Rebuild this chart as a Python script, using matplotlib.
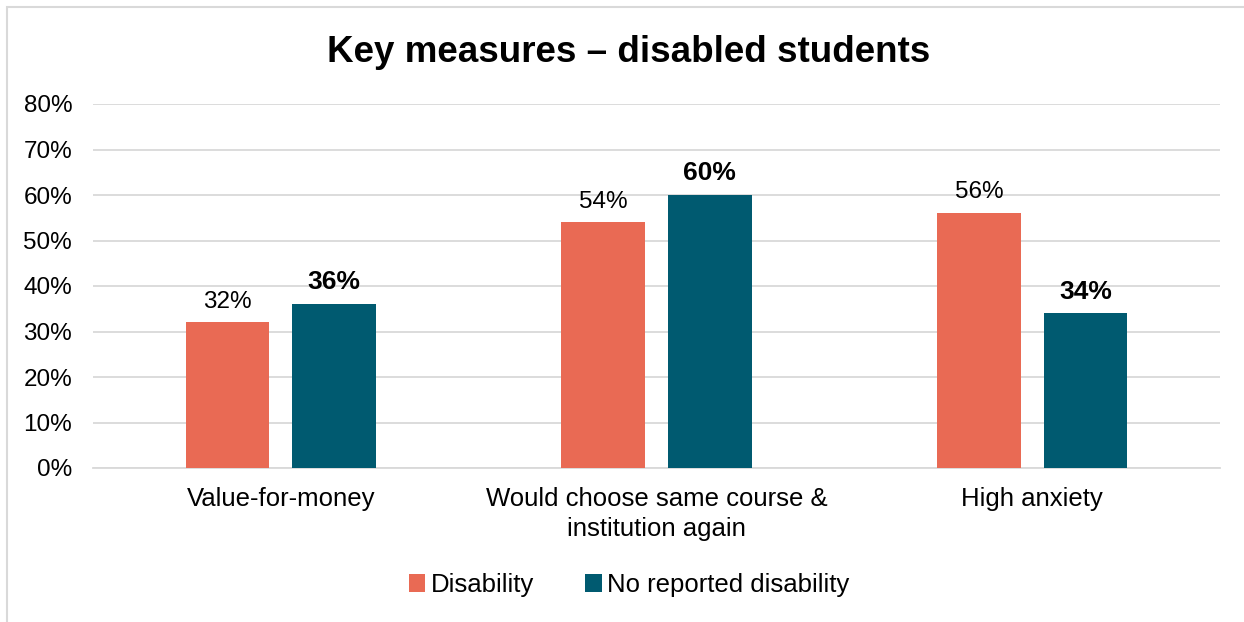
import numpy as np
import matplotlib
matplotlib.use("Agg")
import matplotlib.pyplot as plt
from matplotlib.patches import Rectangle

plt.rcParams['font.family'] = ['Liberation Sans', 'DejaVu Sans']

categories = ["Value-for-money", "Would choose same course &\ninstitution again", "High anxiety"]
series_names = ["Disability", "No reported disability"]
disability = [32, 54, 56]
no_disability = [36, 60, 34]
colors = ["#E96A54", "#005A70"]
yticks = [0, 10, 20, 30, 40, 50, 60, 70, 80]

W, H = 1244, 622
fig = plt.figure(figsize=(W / 100, H / 100), dpi=100)
ax = fig.add_axes([93 / W, 1 - 468 / H, (1220 - 93) / W, (468 - 104) / H])

# outer chart frame (cropped on right/bottom)
fig.patches.append(Rectangle((7 / W, -0.1), 1.2, (1 - 7 / H) + 0.1, transform=fig.transFigure,
                             fill=False, edgecolor="#d9d9d9", lw=1.5))

x = np.arange(len(categories))
width = 0.222
off = 0.142
b1 = ax.bar(x - off, disability, width, color=colors[0], label=series_names[0], zorder=3)
b2 = ax.bar(x + off, no_disability, width, color=colors[1], label=series_names[1], zorder=3)

for rect, v in zip(b1, disability):
    ax.annotate(f"{v}%", (rect.get_x() + rect.get_width() / 2, v), xytext=(0, 7),
                textcoords="offset points", ha="center", va="bottom", fontsize=17.5)
for rect, v in zip(b2, no_disability):
    ax.annotate(f"{v}%", (rect.get_x() + rect.get_width() / 2, v), xytext=(0, 7),
                textcoords="offset points", ha="center", va="bottom", fontsize=19,
                fontweight="bold")

ax.set_xlim(-0.5, 2.5)
ax.set_ylim(0, 80)
ax.set_yticks(yticks)
ax.set_yticklabels([f"{t}%" for t in yticks], fontsize=17.5)
ax.set_xticks(x)
ax.set_xticklabels(categories, fontsize=18.5, linespacing=1.3)
ax.tick_params(axis="both", length=0)
ax.tick_params(axis="x", pad=14)
ax.tick_params(axis="y", pad=15)
ax.grid(axis="y", color="#d9d9d9", lw=1.3, zorder=0)
for s in ["top", "right", "left"]:
    ax.spines[s].set_visible(False)
ax.spines["bottom"].set_color("#d9d9d9")
ax.spines["bottom"].set_linewidth(1.3)

fig.text(629 / W, 1 - 52 / H, "Key measures \u2013 disabled students", ha="center", va="center",
         fontsize=26.5, fontweight="bold")

fig.legend(loc="center", bbox_to_anchor=(629 / W, 1 - 585 / H), ncol=2, frameon=False,
           fontsize=18.5, handlelength=0.65, handleheight=0.65, handletextpad=0.2,
           columnspacing=2.0)

fig.savefig("out.png", dpi=100)
